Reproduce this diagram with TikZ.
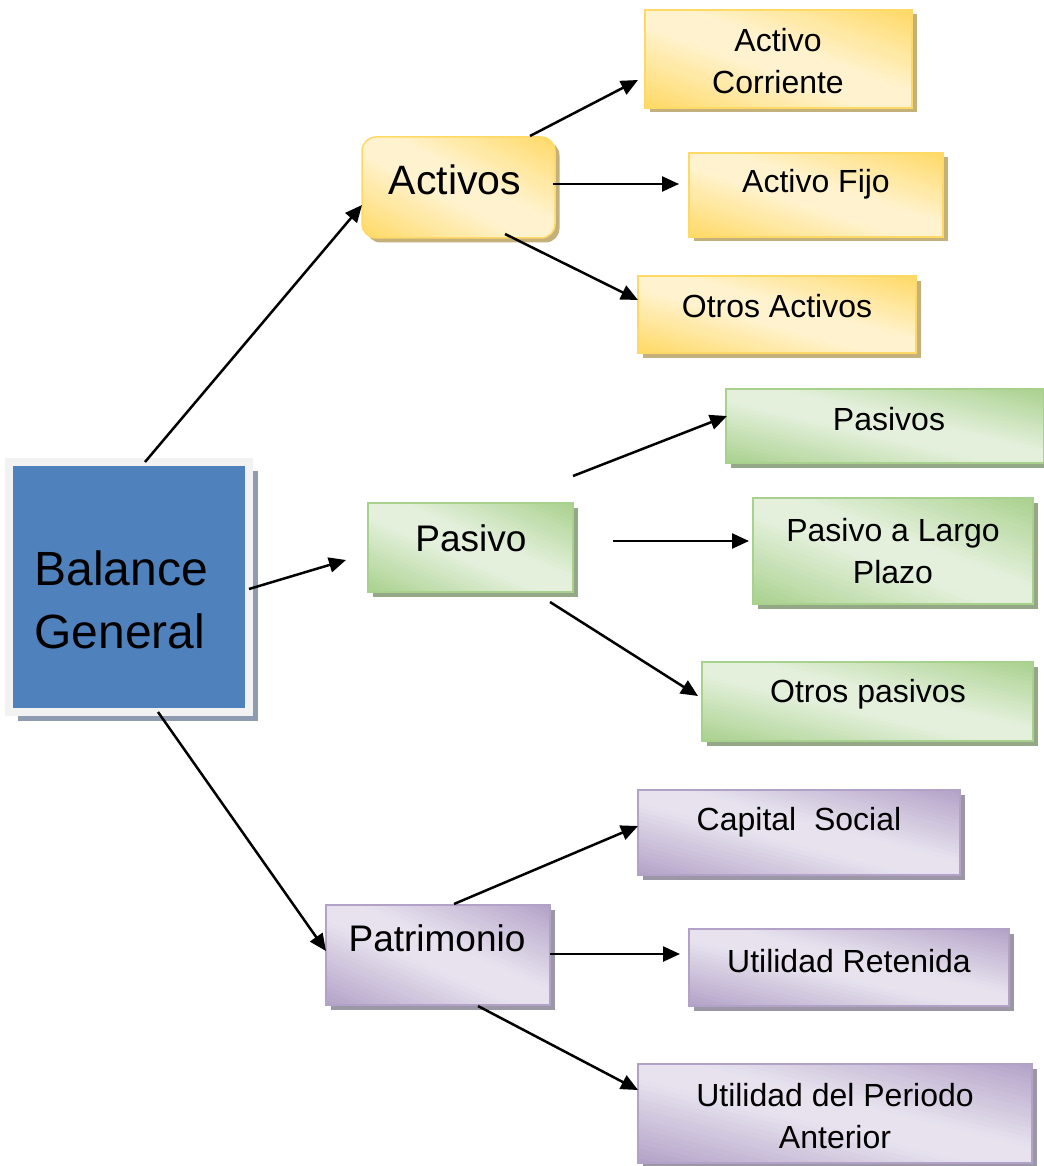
\documentclass[tikz,border=0pt]{standalone}
\usepackage{fontspec}
\setmainfont{Liberation Sans}
\usetikzlibrary{arrows.meta,calc,backgrounds}
\definecolor{gold}{HTML}{FFD966}
\definecolor{cream}{HTML}{FFF3CF}
\definecolor{goldshadow}{HTML}{C4B07A}
\definecolor{leaf}{HTML}{A9D18E}
\definecolor{leaflight}{HTML}{E4F0DC}
\definecolor{leafshadow}{HTML}{94A888}
\definecolor{lilac}{HTML}{B3A2C7}
\definecolor{lilaclight}{HTML}{E7E2EE}
\definecolor{lilacshadow}{HTML}{9B97A6}
\definecolor{bgblue}{HTML}{4F81BD}
\definecolor{bgframe}{HTML}{F2F2F2}
\definecolor{bgshadow}{HTML}{8E9BB0}
% shadow and diagonal gradient behind a box: [clip options]{node}{corner colour}{middle colour}{shadow colour}
\newcommand{\boxfill}[5][]{%
  \fill [#5,#1] ([shift={(4.5pt,-4.5pt)}]#2.south west) rectangle ([shift={(4.5pt,-4.5pt)}]#2.north east);
  \pgfpointanchor{#2}{south west}\pgfgetlastxy{\gxa}{\gya}
  \pgfpointanchor{#2}{north east}\pgfgetlastxy{\gxb}{\gyb}
  \pgfmathsetmacro{\gw}{\gxb-\gxa}
  \pgfmathsetmacro{\gh}{\gyb-\gya}
  \pgfmathsetmacro{\ylo}{\gya-\gh}
  \pgfmathsetmacro{\yhi}{\gya+2*\gh}
  \begin{scope}
  \clip [#1] (#2.south west) rectangle (#2.north east);
  \foreach \i in {0,...,39} {
    \pgfmathsetmacro{\ka}{\i/20}
    \pgfmathsetmacro{\kb}{(\i+1.4)/20}
    \pgfmathtruncatemacro{\mix}{min(100,118*(1-abs(\i+0.5-20)/20))}
    \pgfmathsetmacro{\pa}{\gxa+(\ka+1)*\gw}
    \pgfmathsetmacro{\pb}{\gxa+(\kb+1)*\gw}
    \pgfmathsetmacro{\pc}{\gxa+(\kb-2)*\gw}
    \pgfmathsetmacro{\pd}{\gxa+(\ka-2)*\gw}
    \fill [#4!\mix!#3] (\pa pt,\ylo pt) -- (\pb pt,\ylo pt) -- (\pc pt,\yhi pt) -- (\pd pt,\yhi pt) -- cycle;
  }
  \end{scope}}
\begin{document}
\begin{tikzpicture}[x=1pt,y=-1pt,
  box/.style={rectangle, inner sep=0pt, outer sep=0pt, line width=1.5pt},
  yellowbox/.style={box, draw=gold},
  greenbox/.style={box, draw=leaf},
  purplebox/.style={box, draw=lilac},
  bigtext/.style={font=\fontsize{37}{44}\selectfont, align=center},
  smalltext/.style={font=\fontsize{32}{42}\selectfont, align=center},
  arr/.style={-{Triangle[length=17pt,width=15pt]}, line width=2.5pt}]
\useasboundingbox (0,0) rectangle (1043,1166);
% root
\node [box, preaction={fill=bgshadow, transform canvas={shift={(8.5pt,-8.5pt)}}}, fill=bgblue, draw=bgframe,
  line width=8pt, minimum width=240pt, minimum height=250pt] (bg) at (129,587) {};
\node [anchor=west, align=left, font=\fontsize{48}{63}\selectfont] (bgT) at (31,600) {Balance\\General};
% activos
\node [yellowbox, rounded corners=14pt, minimum width=193pt, minimum height=101pt] (act) at (458.5,187.5) {};
\node [bigtext, font=\fontsize{41}{48}\selectfont] (actT) at (455,180) {Activos};
\node [yellowbox, minimum width=267pt, minimum height=98pt] (corr) at (778.5,59) {};
\node [smalltext] (corrT) at (778,61) {Activo\\Corriente};
\node [yellowbox, minimum width=254pt, minimum height=84pt] (fijo) at (816,195) {};
\node [smalltext] (fijoT) at (816,184) {Activo Fijo};
\node [yellowbox, minimum width=278pt, minimum height=77pt] (otrA) at (777,314.5) {};
\node [smalltext] (otrAT) at (777,306) {Otros Activos};
% pasivo
\node [greenbox, minimum width=205pt, minimum height=89pt] (pas) at (470.5,547.5) {};
\node [bigtext] (pasT) at (471,538) {Pasivo};
\node [greenbox, minimum width=318pt, minimum height=74pt] (pasS) at (885,426) {};
\node [smalltext] (pasST) at (889,419) {Pasivos};
\node [greenbox, minimum width=280pt, minimum height=106pt] (largo) at (893,551) {};
\node [smalltext] (largoT) at (893,551) {Pasivo a Largo\\Plazo};
\node [greenbox, minimum width=331pt, minimum height=79pt] (otrP) at (867.5,701.5) {};
\node [smalltext] (otrPT) at (868,694) {Otros pasivos};
% patrimonio
\node [purplebox, minimum width=224pt, minimum height=100pt] (pat) at (438,955) {};
\node [bigtext] (patT) at (437,938) {Patrimonio};
\node [purplebox, minimum width=322pt, minimum height=85pt] (cap) at (799,832.5) {};
\node [smalltext] (capT) at (799,822) {Capital~~Social};
\node [purplebox, minimum width=320pt, minimum height=77pt] (ret) at (849,967.5) {};
\node [smalltext] (retT) at (849,961) {Utilidad Retenida};
\node [purplebox, minimum width=394pt, minimum height=99pt] (per) at (835,1113.5) {};
\node [smalltext] (perT) at (835,1116) {Utilidad del Periodo\\Anterior};
% fills and shadows
\begin{scope}[on background layer]
\boxfill[rounded corners=14pt]{act}{gold}{cream}{goldshadow}
\boxfill{corr}{gold}{cream}{goldshadow}
\boxfill{fijo}{gold}{cream}{goldshadow}
\boxfill{otrA}{gold}{cream}{goldshadow}
\boxfill{pas}{leaf}{leaflight}{leafshadow}
\boxfill{pasS}{leaf}{leaflight}{leafshadow}
\boxfill{largo}{leaf}{leaflight}{leafshadow}
\boxfill{otrP}{leaf}{leaflight}{leafshadow}
\boxfill{pat}{lilac}{lilaclight}{lilacshadow}
\boxfill{cap}{lilac}{lilaclight}{lilacshadow}
\boxfill{ret}{lilac}{lilaclight}{lilacshadow}
\boxfill{per}{lilac}{lilaclight}{lilacshadow}
\end{scope}
% arrows
\draw [arr] ($(bg.north)+(16,0)$) -- ($(act.west)+(0,17.5)$);
\draw [arr] ($(bg.east)+(0,2)$) -- ($(pas.west)+(-22,12.5)$);
\draw [arr] ($(bg.south)+(29,0)$) -- ($(pat.west)+(0,-4)$);
\draw [arr] ($(act.north)+(71.5,-1)$) -- ($(corr.west)+(-7,21)$);
\draw [arr] ($(act.east)+(-2,-3.5)$) -- ($(fijo.west)+(-10,-11)$);
\draw [arr] ($(act.south)+(46.5,-4)$) -- ($(otrA.west)+(0,-14.5)$);
\draw [arr] ($(pas.north)+(102.5,-27)$) -- ($(pasS.west)+(1,-10)$);
\draw [arr] ($(pas.east)+(40,-6.5)$) -- ($(largo.west)+(-4,-10)$);
\draw [arr] ($(pas.south)+(79.5,10)$) -- ($(otrP.west)+(-4,-5.5)$);
\draw [arr] ($(pat.north)+(16,-1)$) -- ($(cap.west)+(0,-6.5)$);
\draw [arr] ($(pat.east)+(0,-1)$) -- ($(ret.west)+(-9,-13.5)$);
\draw [arr] ($(pat.south)+(40,1)$) -- ($(per.west)+(0,-23.5)$);
\end{tikzpicture}
\end{document}
